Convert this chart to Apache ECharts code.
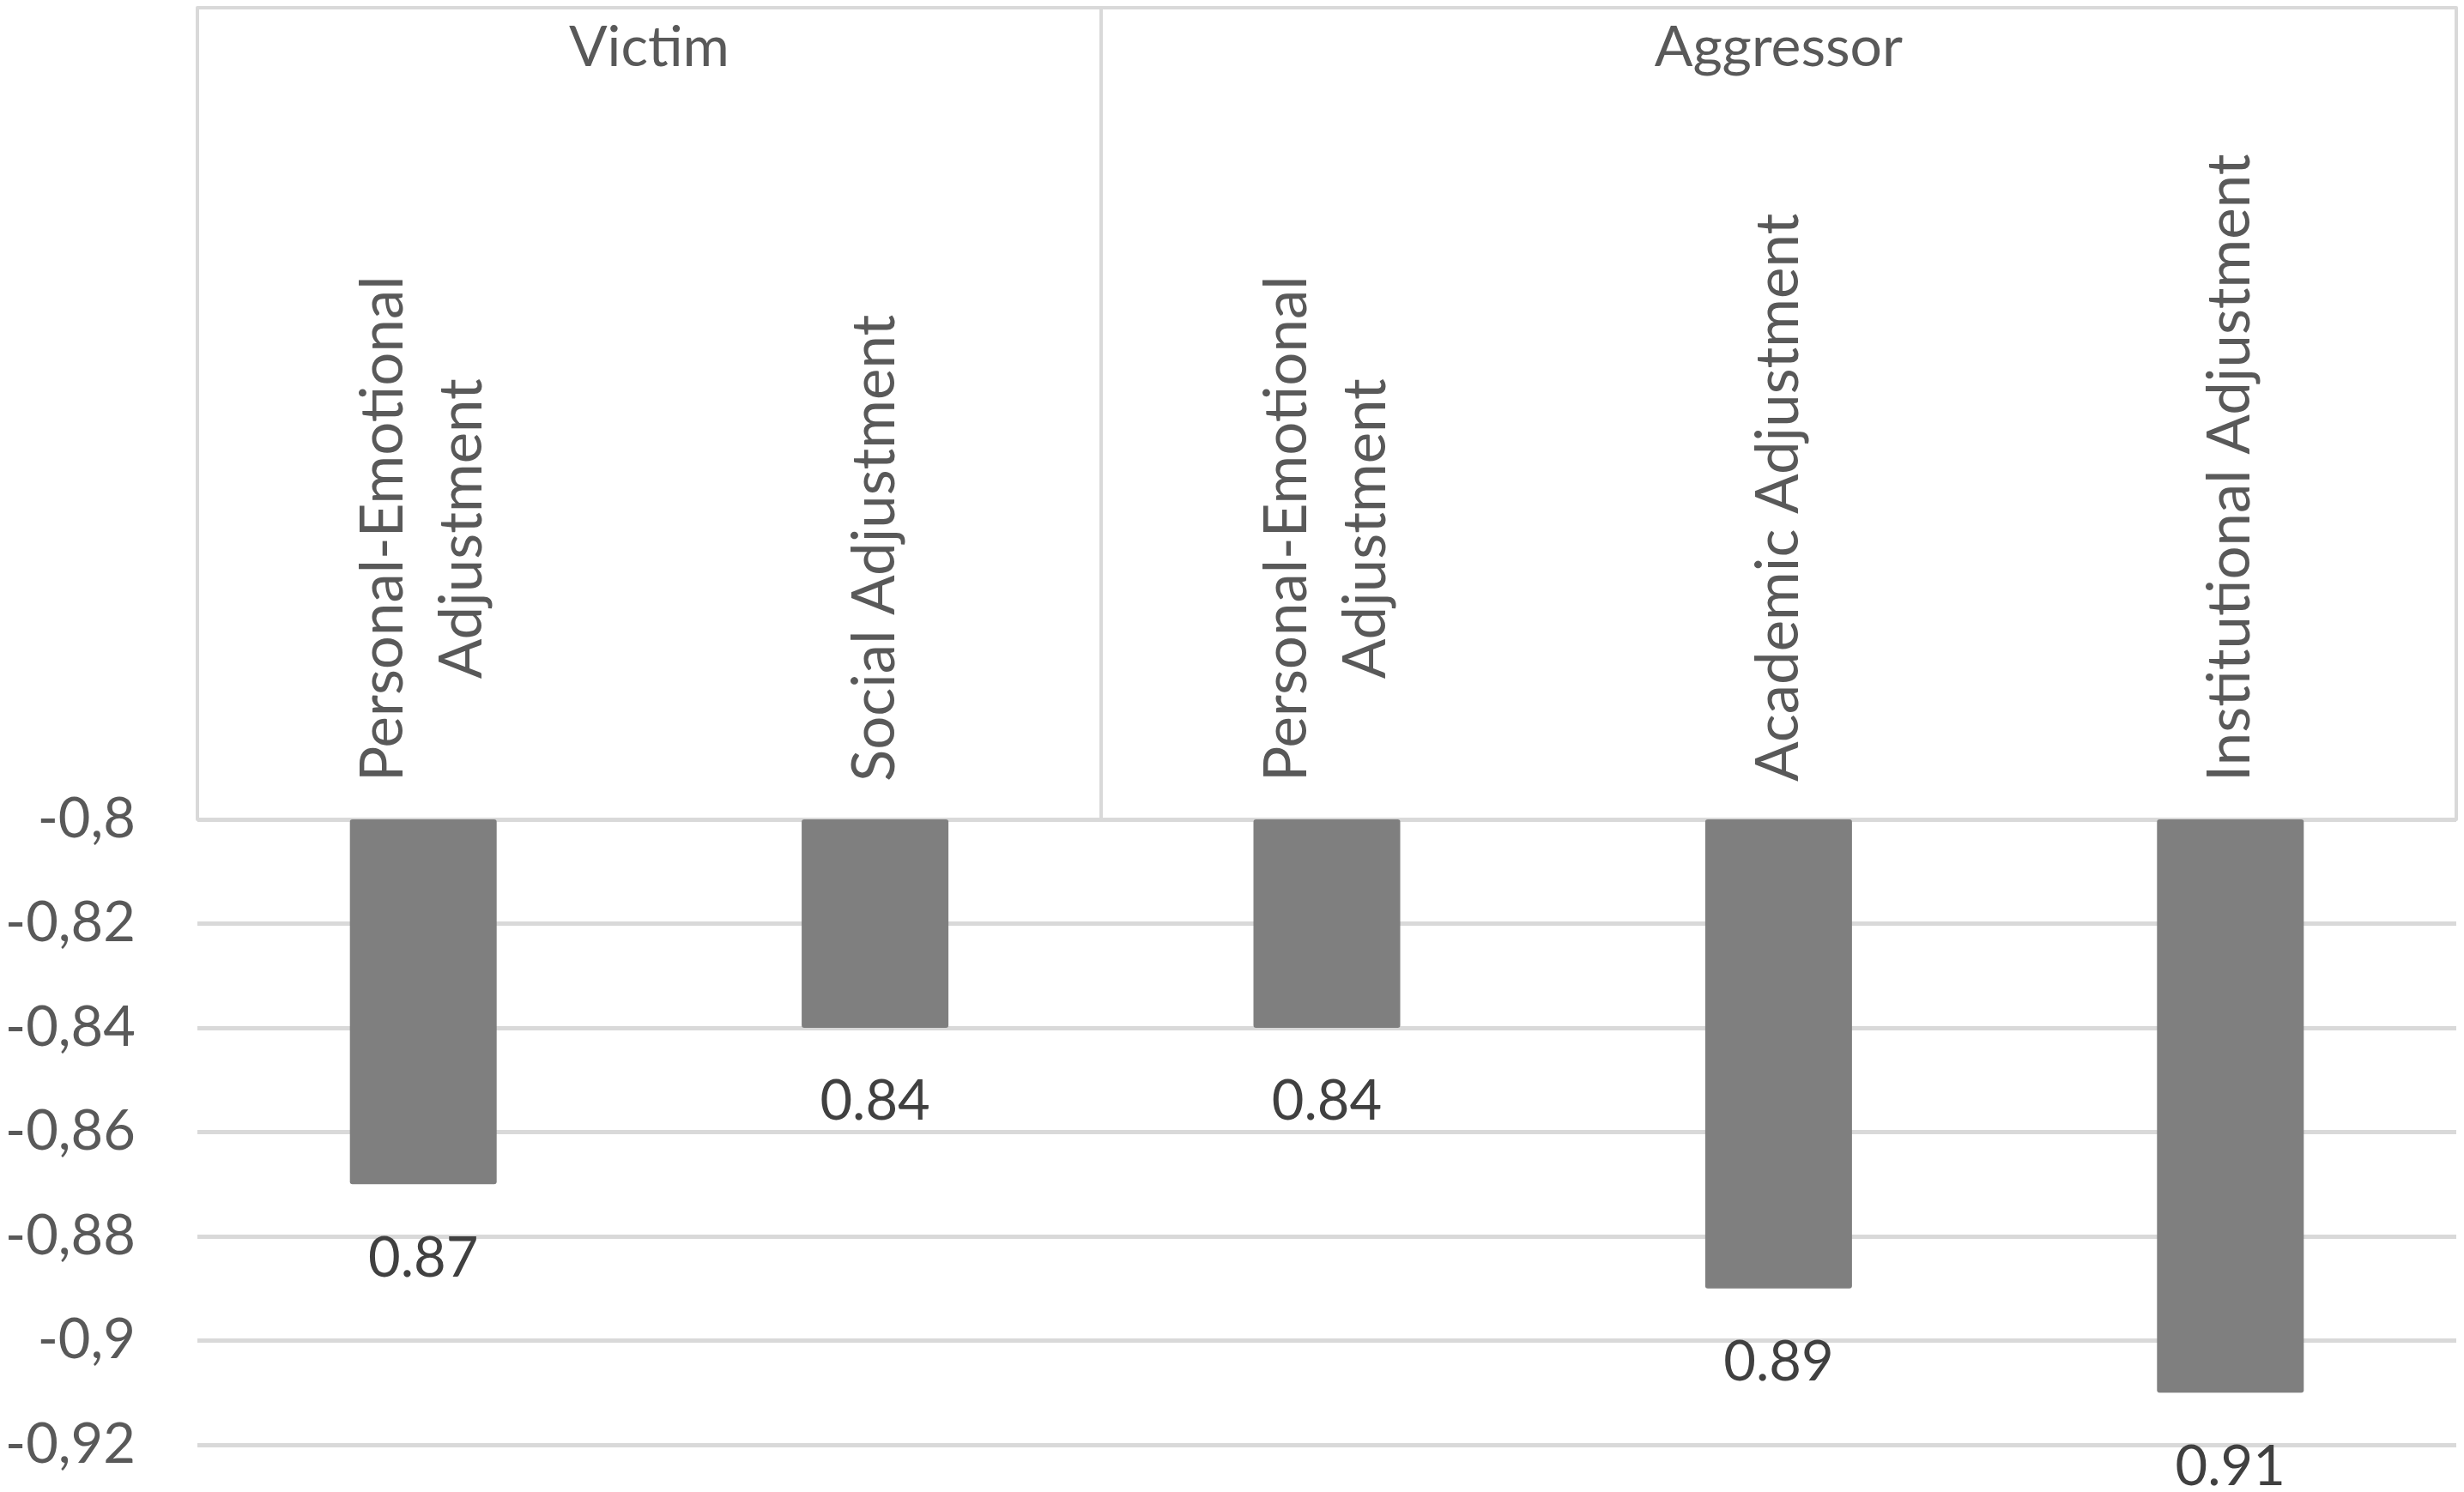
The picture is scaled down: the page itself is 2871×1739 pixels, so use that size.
<!DOCTYPE html>
<html>
<head>
    <meta charset="utf-8">
    <title>Adjustment by role</title>
    <script src="https://cdn.jsdelivr.net/npm/echarts@6.0.0/dist/echarts.min.js"></script>
    <style>
        html, body { margin: 0; padding: 0; background: #fff; }
    </style>
</head>
<body>
<div id="main" style="width: 2871px;height:1739px;"></div>
<script type="text/javascript">
    // categories (bottom level) and their groups (top level)
    var categories = [
        'Personal-Emotional\nAdjustment',
        'Social Adjustment',
        'Personal-Emotional\nAdjustment',
        'Academic Adjustment',
        'Institutional Adjustment'
    ];
    var groups = ['Victim', 'Aggressor'];
    var groupSizes = [2, 3];
    var values = [-0.87, -0.84, -0.84, -0.89, -0.91];
    var yTicks = [-0.92, -0.9, -0.88, -0.86, -0.84, -0.82, -0.8];

    // group boundaries and centres in category units
    var bounds = [0], centres = [], acc = 0;
    groupSizes.forEach(function (n) {
        centres.push(acc + n / 2);
        acc += n;
        bounds.push(acc);
    });

    var lineColor = '#d9d9d9';
    var font = 'Lato';

    var myChart = echarts.init(document.getElementById('main'));
    var option = {
        animation: false,
        grid: {
            left: 230,
            right: 9,
            top: 955,
            bottom: 55
        },
        xAxis: [{
            type: 'category',
            position: 'top',
            data: categories,
            axisLine: { show: true, lineStyle: { color: lineColor, width: 4 } },
            axisTick: { show: false },
            axisLabel: {
                rotate: -90,
                margin: 44,
                interval: 0,
                formatter: function (v) {
                    return v.split('\n').map(function (s) { return '{c|' + s + '}'; }).join('\n');
                },
                rich: {
                    c: {
                        align: 'center',
                        fontFamily: font,
                        fontSize: 69,
                        lineHeight: 92,
                        color: '#595959'
                    }
                }
            }
        }, {
            type: 'value',
            position: 'top',
            min: 0,
            max: acc,
            offset: 946,
            splitLine: { show: false },
            axisLine: { show: true, lineStyle: { color: lineColor, width: 4 } },
            axisTick: {
                show: true,
                inside: true,
                length: 946,
                customValues: bounds,
                lineStyle: { color: lineColor, width: 4 }
            },
            axisLabel: {
                inside: true,
                margin: 14,
                customValues: centres,
                formatter: function (v) {
                    return groups[centres.indexOf(v)];
                },
                fontFamily: font,
                fontSize: 66,
                color: '#595959'
            }
        }],
        yAxis: {
            type: 'value',
            min: yTicks[0],
            max: yTicks[yTicks.length - 1],
            interval: 0.02,
            axisLine: { show: false },
            axisTick: { show: false },
            splitLine: { lineStyle: { color: lineColor, width: 5 } },
            axisLabel: {
                margin: 72,
                fontFamily: font,
                fontSize: 65,
                color: '#595959',
                formatter: function (v) {
                    return String(+v.toFixed(2)).replace('.', ',');
                }
            }
        },
        series: [{
            type: 'bar',
            data: values,
            barWidth: 171,
            clip: true,
            itemStyle: { color: '#7f7f7f', borderRadius: 3 },
            label: {
                show: true,
                position: 'bottom',
                distance: 54,
                fontFamily: font,
                fontSize: 65,
                color: '#404040',
                formatter: function (p) {
                    return Math.abs(p.value).toFixed(2);
                }
            }
        }]
    };
    myChart.setOption(option);
</script>
</body>
</html>
